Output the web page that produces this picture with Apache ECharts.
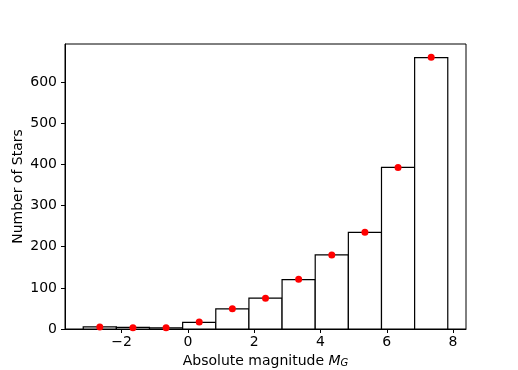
<!DOCTYPE html>
<html>
<head>
<meta charset="utf-8">
<script src="https://cdn.jsdelivr.net/npm/echarts@6/dist/echarts.min.js"></script>
<style>
  html, body { margin: 0; padding: 0; background: #fff; }
  #chart { width: 518px; height: 370px; }
</style>
</head>
<body>
<div id="chart"></div>
<script>
// bin edges (absolute magnitude), counts per bin, red dot values at bin centres
const binEdges = [-3.16, -2.16, -1.16, -0.16, 0.84, 1.84, 2.84, 3.84, 4.84, 5.84, 6.84, 7.84];
const counts = [5, 4, 3, 16, 49, 75, 120, 180, 235, 393, 660];
const dotCounts = [5, 3, 3, 17, 49, 75, 121, 180, 235, 393, 661];
const xTicks = [-2, 0, 2, 4, 6, 8];
const yTicks = [0, 100, 200, 300, 400, 500, 600];

const barData = counts.map((c, i) => [binEdges[i], binEdges[i + 1], c]);
const dotData = dotCounts.map((c, i) => [(binEdges[i] + binEdges[i + 1]) / 2, c]);

const font = 'DejaVu Sans';
const chart = echarts.init(document.getElementById('chart'));

chart.setOption({
  animation: false,
  grid: {
    left: 65, right: 52, top: 44, bottom: 41,
    outerBoundsMode: 'none',
    show: true, borderColor: '#000', borderWidth: 1, backgroundColor: '#fff'
  },
  xAxis: {
    type: 'value',
    min: -3.71, max: 8.39,
    name: '{n|Absolute magnitude }{m|M}{s|G}',
    nameLocation: 'middle',
    nameGap: 21,
    nameTextStyle: {
      rich: {
        n: { fontFamily: font, fontSize: 14, color: '#000' },
        m: { fontFamily: font, fontSize: 14, fontStyle: 'italic', color: '#000' },
        s: { fontFamily: font, fontSize: 10, fontStyle: 'italic', color: '#000', padding: [6, 0, 0, 0] }
      }
    },
    axisLine: { onZero: false, lineStyle: { color: '#000', width: 1 } },
    axisTick: { show: true, length: 4, lineStyle: { color: '#000' }, customValues: xTicks },
    axisLabel: {
      fontFamily: font, fontSize: 14, color: '#000', margin: 6,
      customValues: xTicks,
      formatter: v => String(v).replace('-', '\u2212')
    },
    splitLine: { show: false }
  },
  yAxis: {
    type: 'value',
    min: 0, max: 693,
    name: 'Number of Stars',
    nameLocation: 'middle',
    nameGap: 40,
    nameMoveOverlap: false,
    nameTextStyle: { fontFamily: font, fontSize: 14, color: '#000' },
    axisLine: { show: true, onZero: false, lineStyle: { color: '#000', width: 1 } },
    axisTick: { show: true, length: 4, lineStyle: { color: '#000' }, customValues: yTicks },
    axisLabel: { fontFamily: font, fontSize: 14, color: '#000', margin: 8, customValues: yTicks },
    splitLine: { show: false }
  },
  series: [
    {
      type: 'custom',
      data: barData,
      encode: { x: [0, 1], y: 2 },
      renderItem: (params, api) => {
        const p0 = api.coord([api.value(0), api.value(2)]);
        const p1 = api.coord([api.value(1), 0]);
        return {
          type: 'rect',
          shape: { x: p0[0], y: p0[1], width: p1[0] - p0[0], height: p1[1] - p0[1] },
          style: { fill: '#fff', stroke: '#000', lineWidth: 1.2 }
        };
      },
      z: 2
    },
    {
      type: 'scatter',
      data: dotData,
      symbolSize: 7,
      itemStyle: { color: '#ff0000', opacity: 1 },
      z: 3
    }
  ]
});
</script>
</body>
</html>
